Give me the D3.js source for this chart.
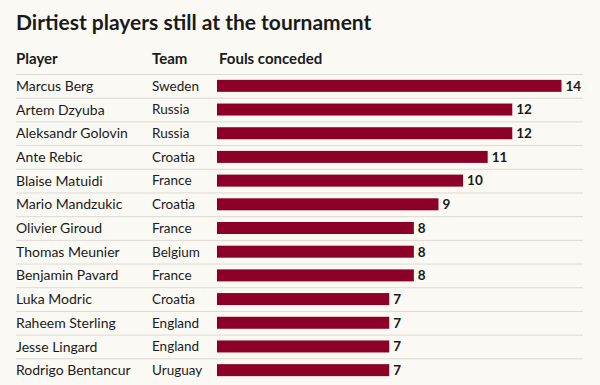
<!DOCTYPE html>
<html>
<head>
<meta charset="utf-8">
<script src="https://cdn.jsdelivr.net/npm/d3@7"></script>
<style>
  html, body { margin: 0; padding: 0; background: #fbf9f4; }
  svg { display: block; font-family: Lato, "Open Sans", sans-serif; }
</style>
</head>
<body>
<div id="chart"></div>
<script>
// Data
const players = ['Marcus Berg', 'Artem Dzyuba', 'Aleksandr Golovin', 'Ante Rebic', 'Blaise Matuidi',
  'Mario Mandzukic', 'Olivier Giroud', 'Thomas Meunier', 'Benjamin Pavard', 'Luka Modric',
  'Raheem Sterling', 'Jesse Lingard', 'Rodrigo Bentancur'];
const teams = ['Sweden', 'Russia', 'Russia', 'Croatia', 'France', 'Croatia', 'France', 'Belgium',
  'France', 'Croatia', 'England', 'England', 'Uruguay'];
const fouls = [14, 12, 12, 11, 10, 9, 8, 8, 8, 7, 7, 7, 7];
const headers = ['Player', 'Team', 'Fouls conceded'];

const width = 600, height = 385;
const COLORS = { bg: '#fbf9f4', bar: '#8c0027', text: '#1a1a1a', rule: '#dcdad5' };

const svg = d3.select('#chart').append('svg')
  .attr('width', width).attr('height', height)
  .style('background', COLORS.bg);

const rows = d3.range(players.length);
const y = d3.scaleBand().domain(rows).range([74, 382]).paddingInner(0).paddingOuter(0);
const x = d3.scaleLinear().domain([0, 14]).range([217, 561.5]);
const colX = [16, 152, 219];

// Title
svg.append('text')
  .attr('x', 16).attr('y', 30)
  .attr('font-size', 21).attr('font-weight', 700)
  .attr('fill', COLORS.text)
  .text('Dirtiest players still at the tournament');

// Column headers
svg.selectAll('.hdr').data(headers).enter().append('text')
  .attr('class', 'hdr')
  .attr('x', (d, i) => colX[i]).attr('y', 64)
  .attr('font-size', 15).attr('font-weight', 700)
  .attr('fill', COLORS.text)
  .text(d => d);

// Row rules (top of every row)
svg.selectAll('.rule').data(rows).enter().append('line')
  .attr('class', 'rule')
  .attr('x1', 16).attr('x2', 583)
  .attr('y1', d => y(d) + 0.5).attr('y2', d => y(d) + 0.5)
  .attr('stroke', COLORS.rule).attr('stroke-width', 1);

const rowG = svg.selectAll('.row').data(rows).enter().append('g')
  .attr('class', 'row')
  .attr('transform', d => `translate(0,${y(d) + y.bandwidth() / 2})`);

rowG.append('text')
  .attr('x', colX[0]).attr('dy', '0.36em')
  .attr('font-size', 14).attr('fill', COLORS.text)
  .text(d => players[d]);

rowG.append('text')
  .attr('x', colX[1]).attr('dy', '0.36em')
  .attr('font-size', 13.5).attr('fill', COLORS.text)
  .text(d => teams[d]);

rowG.append('rect')
  .attr('x', x(0)).attr('y', -6)
  .attr('width', d => x(fouls[d]) - x(0)).attr('height', 12)
  .attr('fill', COLORS.bar);

rowG.append('text')
  .attr('x', d => x(fouls[d]) + 4).attr('dy', '0.36em')
  .attr('font-size', 13.5).attr('font-weight', 700).attr('fill', COLORS.text)
  .text(d => fouls[d]);
</script>
</body>
</html>
